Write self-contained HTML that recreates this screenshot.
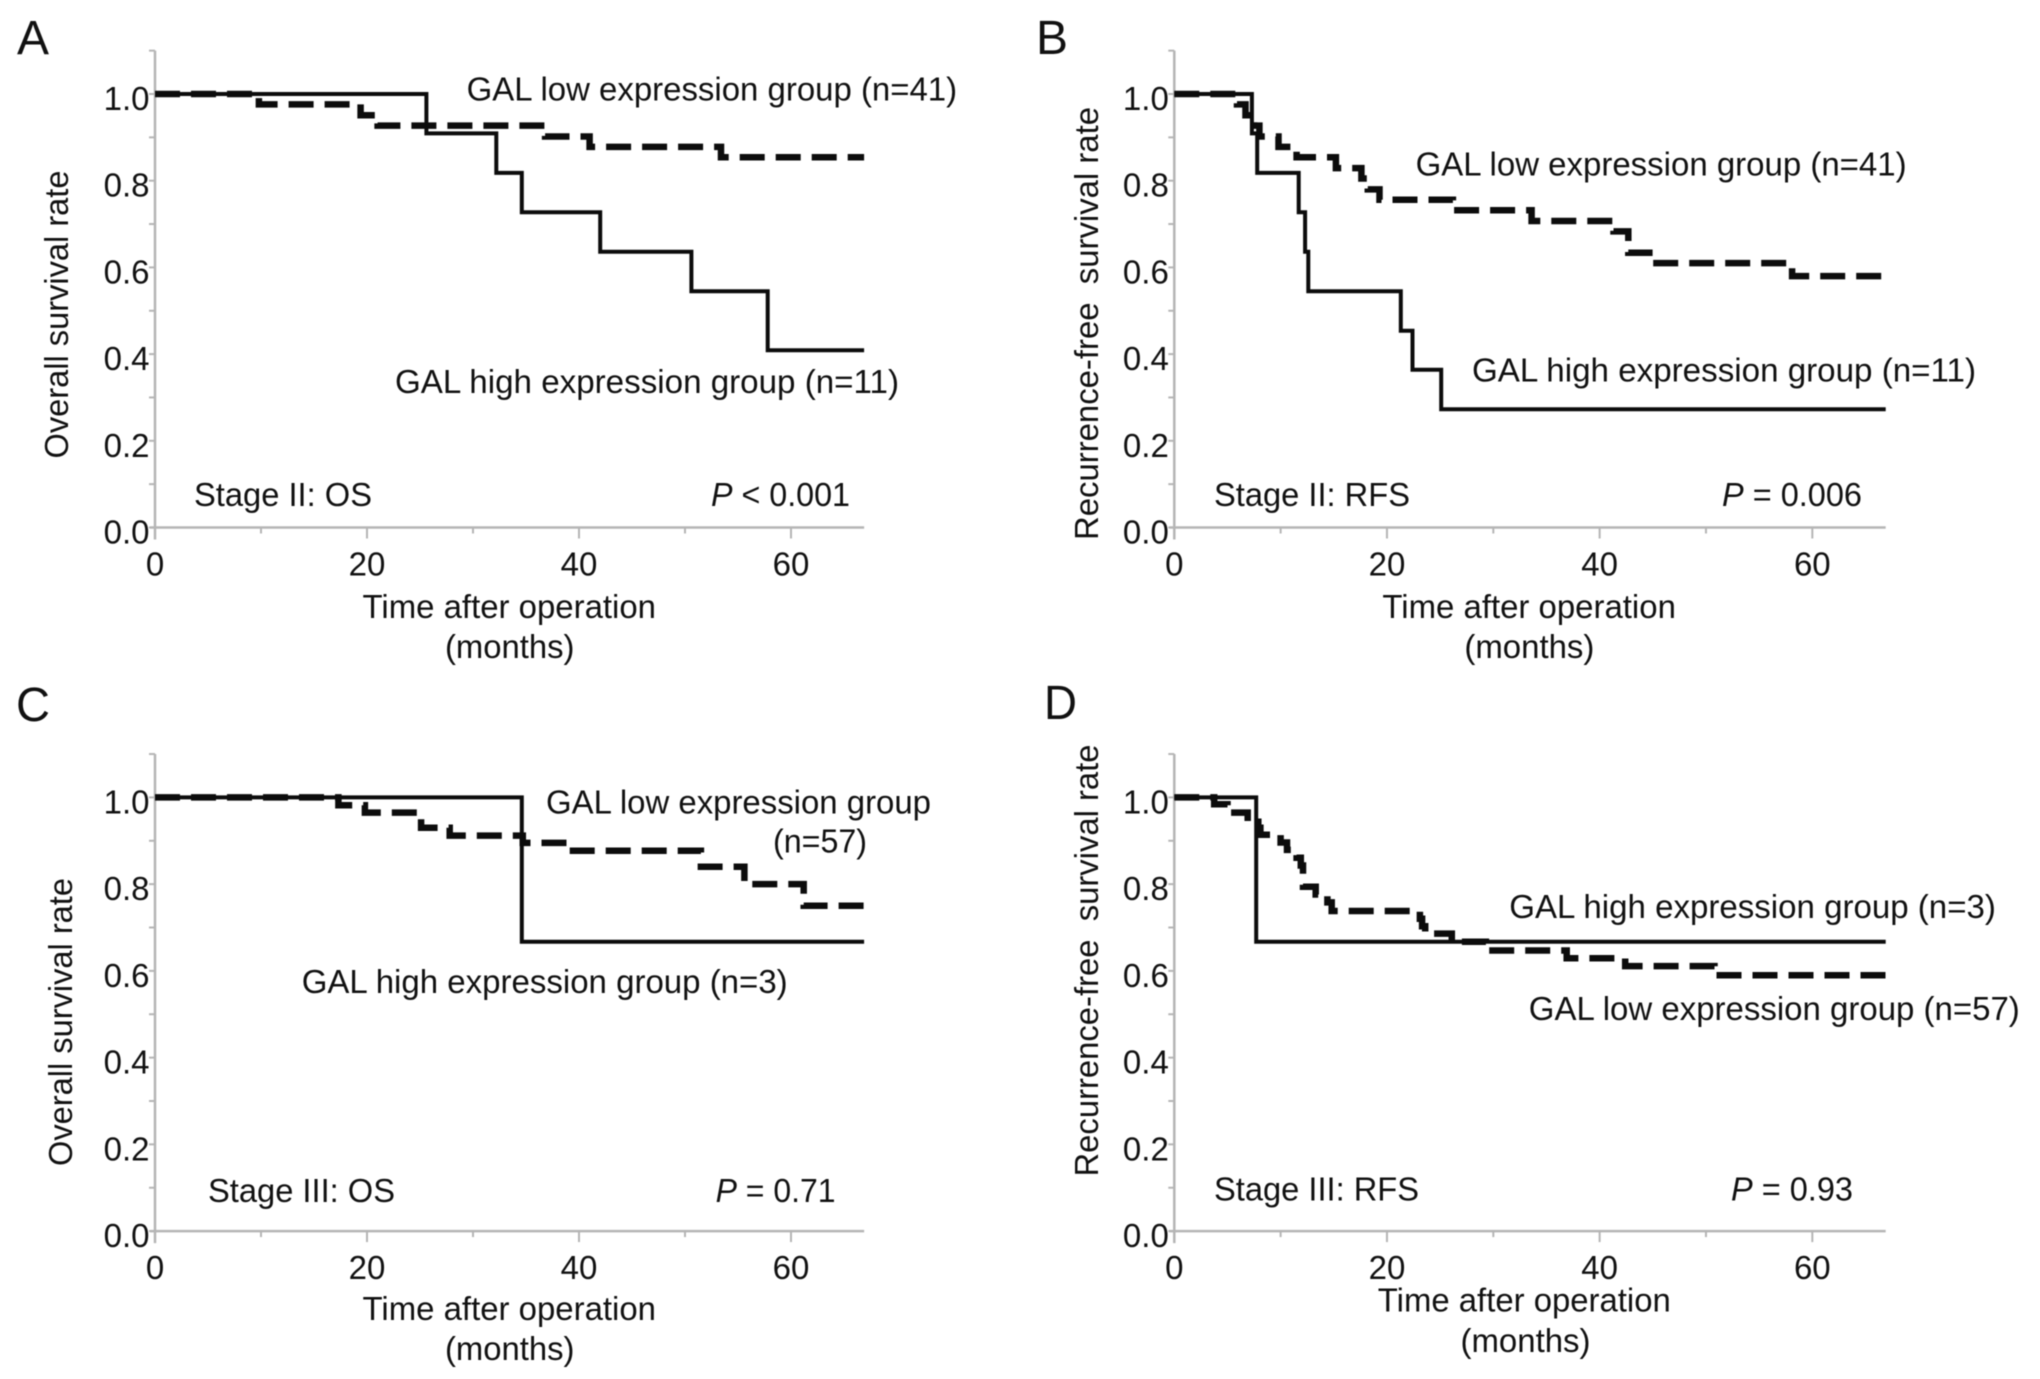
<!DOCTYPE html>
<html lang="en">
<head>
<meta charset="utf-8">
<title>GAL expression survival curves</title>
<style>
html,body{margin:0;padding:0;background:#fff;width:2040px;height:1379px;overflow:hidden}
svg{display:block;filter:blur(0.5px)}
text{font-family:"Liberation Sans",Arial,sans-serif;fill:#111;font-size:33px}
.letter{font-size:48px}
.ital{font-style:italic}
</style>
</head>
<body>
<svg id="figure" xmlns="http://www.w3.org/2000/svg" width="2040" height="1379" viewBox="0 0 2040 1379">
  <rect width="2040" height="1379" fill="#fff"/>

  <g id="panel-a"></g>
  <g id="panel-b"></g>
  <g id="panel-c"></g>
  <g id="panel-d"></g>

  <!-- Panel A text -->
  <text class="letter" x="17" y="54" textLength="32" lengthAdjust="spacingAndGlyphs">A</text>
  <text x="466.6" y="100.5" textLength="490.5" lengthAdjust="spacingAndGlyphs">GAL low expression group (n=41)</text>
  <text x="395" y="393" textLength="504" lengthAdjust="spacingAndGlyphs">GAL high expression group (n=11)</text>
  <text x="194" y="506" textLength="178" lengthAdjust="spacingAndGlyphs">Stage II: OS</text>
  <text x="711" y="506" textLength="139" lengthAdjust="spacingAndGlyphs"><tspan class="ital">P</tspan> &lt; 0.001</text>
  <text transform="translate(68 458.5) rotate(-90)" textLength="288" lengthAdjust="spacingAndGlyphs">Overall survival rate</text>
  <text x="362.5" y="618" textLength="293.5" lengthAdjust="spacingAndGlyphs">Time after operation</text>
  <text x="445" y="658" textLength="129.5" lengthAdjust="spacingAndGlyphs">(months)</text>

  <!-- Panel B text -->
  <text class="letter" x="1036" y="54" textLength="32" lengthAdjust="spacingAndGlyphs">B</text>
  <text x="1415.6" y="175.6" textLength="491" lengthAdjust="spacingAndGlyphs">GAL low expression group (n=41)</text>
  <text x="1472" y="381.6" textLength="504" lengthAdjust="spacingAndGlyphs">GAL high expression group (n=11)</text>
  <text x="1214" y="506" textLength="196" lengthAdjust="spacingAndGlyphs">Stage II: RFS</text>
  <text x="1722" y="506" textLength="140" lengthAdjust="spacingAndGlyphs"><tspan class="ital">P</tspan> = 0.006</text>
  <text transform="translate(1098 540) rotate(-90)" textLength="433" lengthAdjust="spacingAndGlyphs" xml:space="preserve">Recurrence-free  survival rate</text>
  <text x="1382.4" y="618" textLength="293.5" lengthAdjust="spacingAndGlyphs">Time after operation</text>
  <text x="1464.4" y="658" textLength="130" lengthAdjust="spacingAndGlyphs">(months)</text>

  <!-- Panel C text -->
  <text class="letter" x="16" y="721" textLength="34" lengthAdjust="spacingAndGlyphs">C</text>
  <text x="546" y="813.5" textLength="385" lengthAdjust="spacingAndGlyphs">GAL low expression group</text>
  <text x="773" y="852.6" textLength="94" lengthAdjust="spacingAndGlyphs">(n=57)</text>
  <text x="301.7" y="993" textLength="486" lengthAdjust="spacingAndGlyphs">GAL high expression group (n=3)</text>
  <text x="208" y="1202" textLength="187" lengthAdjust="spacingAndGlyphs">Stage III: OS</text>
  <text x="715.6" y="1202" textLength="120" lengthAdjust="spacingAndGlyphs"><tspan class="ital">P</tspan> = 0.71</text>
  <text transform="translate(72 1166) rotate(-90)" textLength="288" lengthAdjust="spacingAndGlyphs">Overall survival rate</text>
  <text x="362.5" y="1320" textLength="293.5" lengthAdjust="spacingAndGlyphs">Time after operation</text>
  <text x="445" y="1360" textLength="129.5" lengthAdjust="spacingAndGlyphs">(months)</text>

  <!-- Panel D text -->
  <text class="letter" x="1044" y="719" textLength="33" lengthAdjust="spacingAndGlyphs">D</text>
  <text x="1509.3" y="918" textLength="486.6" lengthAdjust="spacingAndGlyphs">GAL high expression group (n=3)</text>
  <text x="1528.8" y="1020" textLength="491" lengthAdjust="spacingAndGlyphs">GAL low expression group (n=57)</text>
  <text x="1214" y="1200.5" textLength="205" lengthAdjust="spacingAndGlyphs">Stage III: RFS</text>
  <text x="1731" y="1200.5" textLength="122" lengthAdjust="spacingAndGlyphs"><tspan class="ital">P</tspan> = 0.93</text>
  <text transform="translate(1098 1176.5) rotate(-90)" textLength="432" lengthAdjust="spacingAndGlyphs" xml:space="preserve">Recurrence-free  survival rate</text>
  <text x="1377.8" y="1311.5" textLength="293" lengthAdjust="spacingAndGlyphs">Time after operation</text>
  <text x="1460.5" y="1352" textLength="130" lengthAdjust="spacingAndGlyphs">(months)</text>
</svg>

<script>
// Axis ticks
var xTickLabels = [0, 20, 40, 60];
var xMinorTicks = [10, 30, 50];
var yTickLabels = ["0.0", "0.2", "0.4", "0.6", "0.8", "1.0"];
var yMinorTicks = [0.1, 0.3, 0.5, 0.7, 0.9, 1.1];
var xMax = 66.9;

// Panel A: stage II overall survival
var aHighMonths = [0, 25.6, 32.2, 34.6, 42, 50.6, 57.8, 66.9];
var aHighSurvival = [1, 0.909, 0.818, 0.727, 0.636, 0.545, 0.409, 0.409];
var aLowMonths = [0, 9.8, 19.4, 21, 36.8, 41, 53.4, 66.9];
var aLowSurvival = [1, 0.976, 0.951, 0.927, 0.902, 0.878, 0.854, 0.854];

// Panel B: stage II recurrence-free survival
var bHighMonths = [0, 7.3, 7.8, 11.7, 12.3, 12.6, 21.3, 22.4, 25.1, 66.9];
var bHighSurvival = [1, 0.909, 0.818, 0.727, 0.636, 0.545, 0.454, 0.364, 0.273, 0.273];
var bLowMonths = [0, 5.9, 6.7, 7.5, 8, 9.8, 11.5, 15.2, 17.6, 18.2, 19.3, 26.2, 33.6, 41.3, 42.7, 45, 58.1, 66.9];
var bLowSurvival = [1, 0.976, 0.951, 0.927, 0.902, 0.878, 0.854, 0.829, 0.805, 0.78, 0.756, 0.732, 0.707, 0.683, 0.634, 0.61, 0.58, 0.58];

// Panel C: stage III overall survival
var cHighMonths = [0, 34.6, 66.9];
var cHighSurvival = [1, 0.667, 0.667];
var cLowMonths = [0, 17.3, 19.8, 25.1, 27.8, 34.7, 38.9, 51.5, 55.6, 61.2, 66.9];
var cLowSurvival = [1, 0.982, 0.965, 0.93, 0.912, 0.895, 0.877, 0.84, 0.8, 0.75, 0.75];

// Panel D: stage III recurrence-free survival
var dHighMonths = [0, 7.7, 66.9];
var dHighSurvival = [1, 0.667, 0.667];
var dLowMonths = [0, 3.75, 5, 6.9, 7.9, 8.1, 10, 10.6, 11.5, 11.9, 12.1, 13.3, 14.4, 14.8, 23.1, 23.3, 23.6, 26.1, 29.3, 36.9, 42.4, 50.8, 66.9];
var dLowSurvival = [1, 0.984, 0.965, 0.944, 0.93, 0.914, 0.896, 0.879, 0.861, 0.843, 0.794, 0.776, 0.758, 0.738, 0.72, 0.703, 0.686, 0.667, 0.647, 0.629, 0.611, 0.59, 0.59];

var NS = "http://www.w3.org/2000/svg";

function axisX(x0, x60) {
  return function (t) { return x0 + (x60 - x0) * t / 60; };
}
function axisY(y0, y1) {
  return function (v) { return y0 + (y1 - y0) * v; };
}
function stepPath(months, survival, x, y) {
  var d = "M" + x(months[0]).toFixed(1) + " " + y(survival[0]).toFixed(1);
  for (var i = 1; i < months.length; i++) {
    d += "H" + x(months[i]).toFixed(1) + "V" + y(survival[i]).toFixed(1);
  }
  return d;
}
function shape(parent, tag, attrs) {
  var el = document.createElementNS(NS, tag);
  for (var k in attrs) { el.setAttribute(k, attrs[k]); }
  parent.appendChild(el);
  return el;
}

function drawPanel(id, key, x0, x60, y0, y1, highMonths, highSurvival, lowMonths, lowSurvival) {
  var g = document.getElementById(id);
  var x = axisX(x0, x60);
  var y = axisY(y0, y1);
  var axisColor = "#b5b5b5";
  var el, i;

  el = shape(g, "line", {x1: x(0), x2: x(0), y1: y(0) + 12, y2: y(1.1), stroke: axisColor, "stroke-width": 2.5});
  
  

  el = shape(g, "line", {x1: x(0) - 5, x2: x(xMax), y1: y(0), y2: y(0), stroke: axisColor, "stroke-width": 2.5});
  
  

  for (i = 0; i < xTickLabels.length; i++) {
    el = shape(g, "line", {x1: x(xTickLabels[i]), x2: x(xTickLabels[i]), y1: y(0), y2: y(0) + 11, stroke: axisColor, "stroke-width": 2});
    
    
    el = shape(g, "text", {x: x(xTickLabels[i]), y: y(0) + 48, "text-anchor": "middle"});
    el.textContent = xTickLabels[i];
    
    
  }
  for (i = 0; i < xMinorTicks.length; i++) {
    el = shape(g, "line", {x1: x(xMinorTicks[i]), x2: x(xMinorTicks[i]), y1: y(0), y2: y(0) + 6, stroke: axisColor, "stroke-width": 2});
    
    
  }
  for (i = 0; i < yTickLabels.length; i++) {
    var v = parseFloat(yTickLabels[i]);
    el = shape(g, "line", {x1: x(0) - 6, x2: x(0), y1: y(v), y2: y(v), stroke: axisColor, "stroke-width": 2});
    
    
    el = shape(g, "text", {x: x(0) - 5.5, y: y(v) + 16, "text-anchor": "end"});
    el.textContent = yTickLabels[i];
    
    
  }
  for (i = 0; i < yMinorTicks.length; i++) {
    el = shape(g, "line", {x1: x(0) - 6, x2: x(0), y1: y(yMinorTicks[i]), y2: y(yMinorTicks[i]), stroke: axisColor, "stroke-width": 2});
    
    
  }

  el = shape(g, "path", {d: stepPath(highMonths, highSurvival, x, y), fill: "none", stroke: "#0c0c0c", "stroke-width": 4});
  
  

  el = shape(g, "path", {d: stepPath(lowMonths, lowSurvival, x, y), fill: "none", stroke: "#0c0c0c", "stroke-width": 6.5, "stroke-dasharray": "25 11"});
  
  
}

drawPanel("panel-a", "panel-a", 155, 791, 527.5, 94, aHighMonths, aHighSurvival, aLowMonths, aLowSurvival);
drawPanel("panel-b", "panel-b", 1174.3, 1812.3, 527.5, 94, bHighMonths, bHighSurvival, bLowMonths, bLowSurvival);
drawPanel("panel-c", "panel-c", 155, 791, 1231.1, 797.4, cHighMonths, cHighSurvival, cLowMonths, cLowSurvival);
drawPanel("panel-d", "panel-d", 1174.3, 1812.3, 1231.1, 797.4, dHighMonths, dHighSurvival, dLowMonths, dLowSurvival);
</script>
</body>
</html>
